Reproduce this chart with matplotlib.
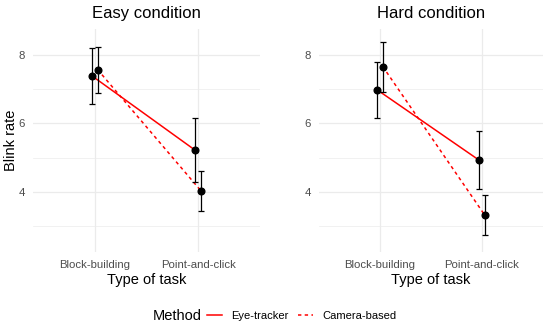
import numpy as np
import matplotlib
matplotlib.use("Agg")
import matplotlib.pyplot as plt
from matplotlib.lines import Line2D

plt.rcParams['font.family'] = ['Liberation Sans', 'DejaVu Sans']

tasks = ["Block-building", "Point-and-click"]
methods = ["Eye-tracker", "Camera-based"]
conditions = ["Easy condition", "Hard condition"]

# mean blink rate [condition][method][task]
means = {
    "Easy condition": {"Eye-tracker": [7.39, 5.21], "Camera-based": [7.58, 4.03]},
    "Hard condition": {"Eye-tracker": [6.98, 4.92], "Camera-based": [7.67, 3.32]},
}
err_hi = {
    "Easy condition": {"Eye-tracker": [8.22, 6.15], "Camera-based": [8.24, 4.62]},
    "Hard condition": {"Eye-tracker": [7.80, 5.77], "Camera-based": [8.39, 3.89]},
}
err_lo = {
    "Easy condition": {"Eye-tracker": [6.58, 4.27], "Camera-based": [6.89, 3.44]},
    "Hard condition": {"Eye-tracker": [6.16, 4.08], "Camera-based": [6.93, 2.74]},
}

styles = {"Eye-tracker": "-", "Camera-based": (0, (2.2, 2.2))}
dodge = {"Eye-tracker": -0.026, "Camera-based": 0.026}

W, H = 550, 328
fig = plt.figure(figsize=(W / 100, H / 100), dpi=100)

panels = [(33, 29, 227, 223), (319, 29, 224, 223)]
grid_col = "#EBEBEB"
tick_col = "#4D4D4D"

for i, (cond, (px, py, pw, ph)) in enumerate(zip(conditions, panels)):
    ax = fig.add_axes([px / W, 1 - (py + ph) / H, pw / W, ph / H])
    ax.set_xlim(0.4, 2.6)
    ax.set_ylim(2.23, 8.77)
    for s in ax.spines.values():
        s.set_visible(False)
    for y in [3, 5, 7]:
        ax.axhline(y, color=grid_col, lw=0.5, zorder=0)
    for y in [4, 6, 8]:
        ax.axhline(y, color=grid_col, lw=0.9, zorder=0)
    for x in [1, 2]:
        ax.axvline(x, color=grid_col, lw=0.9, zorder=0)

    base = np.arange(1, len(tasks) + 1)
    for m in methods:
        xs = base + dodge[m]
        mu = np.array(means[cond][m])
        hi = np.array(err_hi[cond][m])
        lo = np.array(err_lo[cond][m])
        ax.plot(xs, mu, color="red", lw=1.1, linestyle=styles[m], zorder=2)
        ax.errorbar(xs, mu, yerr=[mu - lo, hi - mu], fmt="none", ecolor="black",
                    elinewidth=0.9, capsize=2.2, capthick=0.9, zorder=3)
        ax.plot(xs, mu, "o", color="black", ms=4.8, zorder=4)

    ax.set_xticks(base)
    ax.set_xticklabels(tasks)
    ax.set_yticks([4, 6, 8])
    ax.tick_params(axis="x", length=0, labelsize=8.2, labelcolor=tick_col, pad=6)
    ax.tick_params(axis="y", length=0, labelsize=8.2, labelcolor=tick_col, pad=6)
    ax.set_xlabel("Type of task", fontsize=10.5, labelpad=2)
    if i == 0:
        ax.set_ylabel("Blink rate", fontsize=10.5)
        ax.yaxis.set_label_coords(-15 / pw, 0.5)
    ax.set_title(cond, fontsize=12, pad=8)

handles = [Line2D([0], [0], color="red", lw=1.1, linestyle=styles[m]) for m in methods]
fig.text(153 / W, 1 - 316 / H, "Method", fontsize=10.5, va="center", ha="left")
fig.legend(handles, methods, loc="center left", bbox_to_anchor=(207 / W, 1 - 316 / H),
           ncol=2, frameon=False, fontsize=8, handlelength=1.35, handletextpad=0.8,
           columnspacing=0.9, borderpad=0, borderaxespad=0)

fig.savefig("out.png", dpi=100)
